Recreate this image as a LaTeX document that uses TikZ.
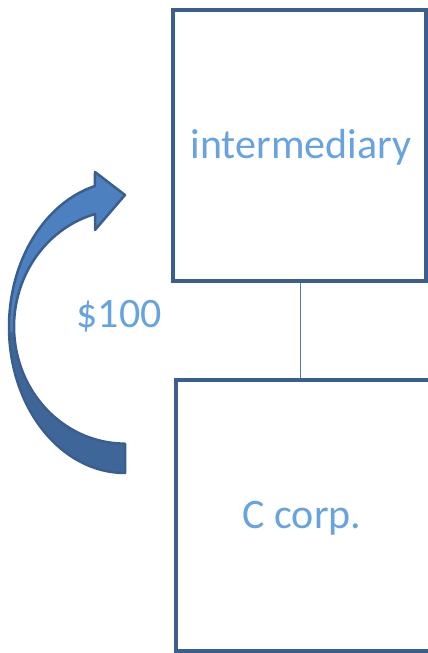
\documentclass[tikz,border=0pt]{standalone}
\usepackage{fontspec}
\setmainfont{Carlito}
\definecolor{boxline}{HTML}{3A5F8E}
\definecolor{linkline}{HTML}{4A7EBB}
\definecolor{labeltext}{HTML}{66A3E0}
\definecolor{arrowlight}{HTML}{4D80BE}
\definecolor{arrowdark}{HTML}{3F6699}
\definecolor{arrowedge}{HTML}{3A5F8E}
\begin{document}
\begin{tikzpicture}[x=1pt,y=1pt,
  entity/.style={draw=boxline,line width=4pt,fill=white},
  label/.style={text=labeltext,font=\fontsize{42}{50}\selectfont,inner sep=0pt},
  link/.style={draw=linkline,line width=1.4pt}]
  \useasboundingbox (0,0) rectangle (428,653);
  \clip (0,0) rectangle (428,653);

  % the two entities and the link between them
  \draw[entity] (173,372) rectangle (426,643);
  \draw[entity] (176,2) rectangle (445,273);
  \coordinate (topbottom) at (300.7,370);
  \coordinate (lowtop) at (300.7,275);
  \draw[link] (topbottom) -- (lowtop);

  \node[label] (inter) at (301,506) {intermediary};
  \node[label] (ccorp) at (302,135) {C corp.};
  \node[label] (amount) at (119,337) {\$100};

  % curved block arrow, tail at the bottom, head pointing at the upper box
  \def\curvedarrow{(125,180)
    arc[start angle=270,end angle=105,x radius=116,y radius=146]
    -- (95,481) -- (125,458) -- (95,423) -- (95,439)
    arc[start angle=105.7,end angle=270,x radius=111,y radius=117]
    -- cycle}
  \fill[arrowlight] \curvedarrow;
  \begin{scope}
    \clip (0,0) rectangle (200,320);
    \fill[arrowdark] \curvedarrow;
  \end{scope}
  \draw[arrowedge,line width=2.5pt,line join=round] \curvedarrow;
\end{tikzpicture}
\end{document}
